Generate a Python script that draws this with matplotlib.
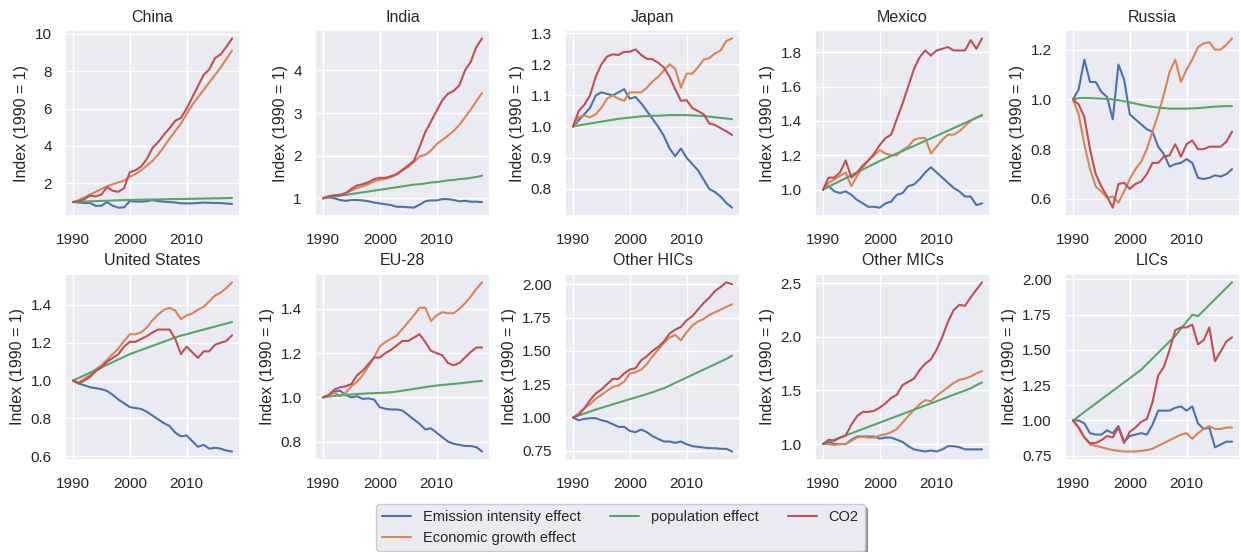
import matplotlib
matplotlib.use("Agg")
import matplotlib.pyplot as plt
import seaborn as sns

sns.set_theme(style="darkgrid")
plt.rcParams['font.family'] = ['Liberation Sans', 'DejaVu Sans']

years = list(range(1990, 2019))
regions = ["China", "India", "Japan", "Mexico", "Russia",
           "United States", "EU-28", "Other HICs", "Other MICs", "LICs"]
series_names = ["Emission intensity effect", "Economic growth effect",
                "population effect", "CO2"]

china_intensity = [1.0, 0.98, 0.95, 0.95, 0.8, 0.8, 1.0, 0.8, 0.7, 0.72, 1.05, 1.03, 1.02, 1.05, 1.1, 1.05, 1.02, 1.0, 0.98, 0.93, 0.93, 0.93, 0.95, 0.97, 0.96, 0.95, 0.95, 0.92, 0.9]
china_growth = [1.0, 1.1, 1.25, 1.4, 1.55, 1.7, 1.85, 1.95, 2.05, 2.15, 2.35, 2.5, 2.7, 2.95, 3.2, 3.55, 3.95, 4.4, 4.8, 5.2, 5.7, 6.2, 6.6, 7.0, 7.4, 7.8, 8.2, 8.65, 9.1]
china_pop = [1.0, 1.013, 1.026, 1.038, 1.05, 1.062, 1.073, 1.083, 1.093, 1.102, 1.11, 1.118, 1.125, 1.131, 1.137, 1.143, 1.149, 1.154, 1.16, 1.165, 1.17, 1.175, 1.181, 1.187, 1.193, 1.199, 1.205, 1.212, 1.218]
china_co2 = [1.0, 1.05, 1.15, 1.35, 1.3, 1.4, 1.8, 1.6, 1.55, 1.75, 2.6, 2.7, 2.9, 3.3, 3.9, 4.2, 4.6, 4.95, 5.35, 5.5, 6.0, 6.6, 7.2, 7.8, 8.1, 8.7, 8.9, 9.3, 9.75]

india_intensity = [1.0, 1.02, 1.0, 0.96, 0.94, 0.96, 0.96, 0.95, 0.93, 0.9, 0.88, 0.86, 0.84, 0.8, 0.8, 0.79, 0.78, 0.85, 0.93, 0.95, 0.95, 0.98, 0.98, 0.96, 0.93, 0.94, 0.92, 0.92, 0.91]
india_growth = [1.0, 1.02, 1.05, 1.08, 1.12, 1.18, 1.24, 1.28, 1.33, 1.4, 1.43, 1.46, 1.5, 1.56, 1.65, 1.74, 1.85, 1.98, 2.02, 2.12, 2.27, 2.37, 2.47, 2.58, 2.72, 2.9, 3.08, 3.28, 3.47]
india_pop = [1.0, 1.02, 1.04, 1.06, 1.08, 1.1, 1.12, 1.14, 1.16, 1.18, 1.2, 1.22, 1.24, 1.26, 1.28, 1.3, 1.32, 1.33, 1.35, 1.37, 1.38, 1.4, 1.42, 1.43, 1.45, 1.46, 1.48, 1.5, 1.53]
india_co2 = [1.0, 1.05, 1.07, 1.08, 1.12, 1.22, 1.3, 1.33, 1.38, 1.45, 1.48, 1.48, 1.52, 1.57, 1.67, 1.77, 1.88, 2.2, 2.55, 2.8, 3.05, 3.3, 3.45, 3.52, 3.65, 4.0, 4.2, 4.55, 4.75]

japan_intensity = [1.0, 1.02, 1.04, 1.06, 1.1, 1.11, 1.105, 1.1, 1.11, 1.12, 1.09, 1.095, 1.075, 1.05, 1.025, 1.0, 0.97, 0.93, 0.905, 0.93, 0.9, 0.88, 0.86, 0.83, 0.8, 0.79, 0.775, 0.755, 0.74]
japan_growth = [1.0, 1.03, 1.035, 1.03, 1.04, 1.06, 1.09, 1.1, 1.09, 1.083, 1.11, 1.11, 1.11, 1.125, 1.145, 1.16, 1.18, 1.2, 1.185, 1.125, 1.17, 1.17, 1.19, 1.215, 1.22, 1.235, 1.245, 1.275, 1.283]
japan_pop = [1.0, 1.004, 1.007, 1.01, 1.013, 1.016, 1.019, 1.022, 1.025, 1.027, 1.029, 1.031, 1.033, 1.034, 1.035, 1.035, 1.036, 1.037, 1.037, 1.037, 1.037, 1.036, 1.035, 1.034, 1.032, 1.03, 1.028, 1.026, 1.024]
japan_co2 = [1.0, 1.05, 1.07, 1.1, 1.16, 1.2, 1.225, 1.232, 1.23, 1.24, 1.24, 1.248, 1.23, 1.218, 1.216, 1.205, 1.19, 1.16, 1.12, 1.083, 1.085, 1.06, 1.05, 1.04, 1.01, 1.005, 0.995, 0.985, 0.973]

mexico_intensity = [1.0, 1.02, 0.99, 0.98, 0.99, 0.97, 0.94, 0.92, 0.9, 0.9, 0.895, 0.92, 0.93, 0.97, 0.98, 1.02, 1.03, 1.06, 1.1, 1.13, 1.1, 1.07, 1.04, 1.01, 0.99, 0.96, 0.96, 0.91, 0.92]
mexico_growth = [1.0, 1.04, 1.06, 1.08, 1.1, 1.02, 1.08, 1.13, 1.17, 1.2, 1.23, 1.21, 1.2, 1.2, 1.23, 1.25, 1.29, 1.3, 1.3, 1.21, 1.25, 1.29, 1.32, 1.32, 1.34, 1.37, 1.4, 1.42, 1.43]
mexico_pop = [1.0, 1.017, 1.034, 1.05, 1.067, 1.084, 1.1, 1.117, 1.134, 1.15, 1.167, 1.181, 1.196, 1.211, 1.225, 1.24, 1.254, 1.269, 1.284, 1.298, 1.313, 1.328, 1.343, 1.358, 1.373, 1.388, 1.403, 1.418, 1.435]
mexico_co2 = [1.0, 1.07, 1.07, 1.1, 1.17, 1.07, 1.1, 1.14, 1.17, 1.21, 1.26, 1.3, 1.32, 1.41, 1.5, 1.6, 1.7, 1.77, 1.81, 1.78, 1.81, 1.82, 1.83, 1.81, 1.81, 1.81, 1.87, 1.82, 1.88]

russia_intensity = [1.0, 1.04, 1.16, 1.07, 1.07, 1.03, 1.01, 0.92, 1.14, 1.08, 0.94, 0.92, 0.9, 0.88, 0.87, 0.81, 0.78, 0.73, 0.74, 0.745, 0.76, 0.745, 0.685, 0.68, 0.685, 0.695, 0.69, 0.7, 0.72]
russia_growth = [1.0, 0.94, 0.82, 0.72, 0.65, 0.63, 0.605, 0.61, 0.585, 0.63, 0.68, 0.72, 0.75, 0.8, 0.87, 0.94, 1.02, 1.11, 1.16, 1.07, 1.12, 1.16, 1.21, 1.225, 1.23, 1.2, 1.2, 1.22, 1.245]
russia_pop = [1.0, 1.005, 1.006, 1.005, 1.004, 1.003, 1.002, 1.0, 0.997, 0.993, 0.988, 0.983, 0.978, 0.974, 0.97, 0.967, 0.965, 0.963, 0.963, 0.963, 0.963, 0.964, 0.965, 0.967, 0.969, 0.971, 0.972, 0.973, 0.973]
russia_co2 = [1.0, 0.98, 0.93, 0.8, 0.7, 0.65, 0.61, 0.565, 0.66, 0.665, 0.64, 0.66, 0.67, 0.7, 0.745, 0.745, 0.77, 0.775, 0.82, 0.77, 0.82, 0.835, 0.8, 0.8, 0.81, 0.81, 0.81, 0.83, 0.87]

us_intensity = [1.0, 0.985, 0.975, 0.965, 0.96, 0.955, 0.945, 0.925, 0.9, 0.88, 0.86, 0.855, 0.85, 0.835, 0.815, 0.795, 0.775, 0.76, 0.725, 0.705, 0.71, 0.68, 0.65, 0.66, 0.64, 0.645, 0.64, 0.63, 0.625]
us_growth = [1.0, 0.99, 1.01, 1.03, 1.06, 1.08, 1.11, 1.14, 1.17, 1.21, 1.245, 1.245, 1.255, 1.28, 1.32, 1.35, 1.375, 1.385, 1.37, 1.325, 1.345, 1.355, 1.375, 1.39, 1.42, 1.45, 1.465, 1.49, 1.52]
us_pop = [1.0, 1.014, 1.028, 1.042, 1.056, 1.07, 1.084, 1.098, 1.112, 1.126, 1.14, 1.151, 1.162, 1.173, 1.184, 1.195, 1.206, 1.217, 1.228, 1.238, 1.245, 1.254, 1.262, 1.27, 1.278, 1.286, 1.294, 1.302, 1.31]
us_co2 = [1.0, 0.985, 1.0, 1.02, 1.05, 1.07, 1.1, 1.12, 1.14, 1.18, 1.205, 1.205, 1.22, 1.235, 1.255, 1.27, 1.27, 1.27, 1.22, 1.14, 1.18, 1.15, 1.12, 1.155, 1.155, 1.19, 1.2, 1.21, 1.24]

eu_intensity = [1.0, 1.01, 1.025, 1.03, 1.01, 1.0, 1.005, 0.993, 0.995, 0.99, 0.955, 0.948, 0.945, 0.945, 0.94, 0.92, 0.9, 0.88, 0.855, 0.86, 0.84, 0.82, 0.8, 0.79, 0.785, 0.78, 0.78, 0.775, 0.755]
eu_growth = [1.0, 1.01, 1.02, 1.005, 1.02, 1.05, 1.07, 1.1, 1.14, 1.18, 1.23, 1.25, 1.265, 1.28, 1.31, 1.34, 1.37, 1.405, 1.405, 1.345, 1.37, 1.385, 1.38, 1.38, 1.4, 1.425, 1.455, 1.49, 1.52]
eu_pop = [1.0, 1.003, 1.006, 1.009, 1.011, 1.013, 1.015, 1.016, 1.018, 1.019, 1.02, 1.021, 1.023, 1.026, 1.03, 1.034, 1.038, 1.042, 1.046, 1.05, 1.053, 1.056, 1.058, 1.061, 1.063, 1.066, 1.069, 1.072, 1.074]
eu_co2 = [1.0, 1.01, 1.035, 1.045, 1.05, 1.06, 1.1, 1.12, 1.15, 1.18, 1.18, 1.2, 1.215, 1.235, 1.255, 1.255, 1.27, 1.285, 1.25, 1.21, 1.2, 1.19, 1.155, 1.145, 1.155, 1.18, 1.205, 1.225, 1.225]

hic_intensity = [1.0, 0.98, 0.99, 0.995, 0.995, 0.98, 0.97, 0.95, 0.93, 0.93, 0.9, 0.89, 0.91, 0.89, 0.86, 0.84, 0.82, 0.82, 0.81, 0.82, 0.8, 0.785, 0.78, 0.775, 0.77, 0.77, 0.765, 0.765, 0.745]
hic_growth = [1.0, 1.03, 1.07, 1.1, 1.14, 1.17, 1.2, 1.23, 1.24, 1.27, 1.33, 1.34, 1.36, 1.4, 1.46, 1.51, 1.56, 1.6, 1.62, 1.58, 1.64, 1.69, 1.72, 1.74, 1.77, 1.79, 1.81, 1.83, 1.85]
hic_pop = [1.0, 1.015, 1.03, 1.045, 1.06, 1.073, 1.086, 1.099, 1.112, 1.125, 1.138, 1.15, 1.163, 1.176, 1.19, 1.205, 1.22, 1.24, 1.26, 1.28, 1.3, 1.32, 1.34, 1.36, 1.38, 1.4, 1.42, 1.44, 1.465]
hic_co2 = [1.0, 1.02, 1.07, 1.13, 1.18, 1.21, 1.25, 1.29, 1.29, 1.33, 1.36, 1.37, 1.43, 1.46, 1.5, 1.53, 1.57, 1.63, 1.66, 1.68, 1.73, 1.76, 1.81, 1.86, 1.9, 1.95, 1.98, 2.015, 2.0]

mic_intensity = [1.0, 1.02, 1.0, 1.0, 1.0, 1.04, 1.07, 1.07, 1.07, 1.07, 1.05, 1.06, 1.06, 1.04, 1.02, 0.98, 0.95, 0.94, 0.93, 0.94, 0.93, 0.95, 0.98, 0.98, 0.97, 0.95, 0.95, 0.95, 0.95]
mic_growth = [1.0, 1.0, 0.99, 1.0, 1.0, 1.03, 1.06, 1.07, 1.06, 1.06, 1.08, 1.09, 1.11, 1.14, 1.2, 1.26, 1.32, 1.37, 1.41, 1.4, 1.45, 1.49, 1.53, 1.57, 1.6, 1.61, 1.63, 1.66, 1.68]
mic_pop = [1.0, 1.02, 1.04, 1.06, 1.08, 1.1, 1.12, 1.14, 1.16, 1.18, 1.2, 1.22, 1.24, 1.26, 1.28, 1.3, 1.32, 1.34, 1.36, 1.38, 1.4, 1.42, 1.44, 1.46, 1.48, 1.5, 1.52, 1.55, 1.575]
mic_co2 = [1.0, 1.04, 1.03, 1.06, 1.08, 1.18, 1.26, 1.3, 1.3, 1.31, 1.34, 1.38, 1.43, 1.46, 1.55, 1.58, 1.61, 1.69, 1.75, 1.79, 1.88, 2.0, 2.14, 2.25, 2.3, 2.29, 2.37, 2.44, 2.51]

lic_intensity = [1.0, 1.0, 0.98, 0.91, 0.9, 0.9, 0.93, 0.91, 0.96, 0.85, 0.89, 0.9, 0.91, 0.9, 0.97, 1.07, 1.07, 1.07, 1.09, 1.1, 1.07, 1.1, 0.98, 0.94, 0.95, 0.81, 0.83, 0.85, 0.85]
lic_growth = [1.0, 0.95, 0.88, 0.83, 0.82, 0.81, 0.8, 0.79, 0.785, 0.78, 0.78, 0.78, 0.785, 0.79, 0.8, 0.82, 0.84, 0.86, 0.88, 0.9, 0.91, 0.87, 0.91, 0.94, 0.96, 0.94, 0.94, 0.95, 0.95]
lic_pop = [1.0, 1.03, 1.06, 1.09, 1.12, 1.15, 1.18, 1.21, 1.24, 1.27, 1.3, 1.33, 1.36, 1.4, 1.44, 1.48, 1.52, 1.56, 1.6, 1.65, 1.7, 1.75, 1.74, 1.78, 1.82, 1.86, 1.9, 1.94, 1.98]
lic_co2 = [1.0, 0.95, 0.88, 0.84, 0.84, 0.86, 0.89, 0.88, 0.95, 0.84, 0.92, 0.95, 0.99, 1.01, 1.13, 1.32, 1.38, 1.5, 1.64, 1.66, 1.66, 1.68, 1.54, 1.57, 1.66, 1.42, 1.49, 1.56, 1.59]

data = {
    "China": [china_intensity, china_growth, china_pop, china_co2],
    "India": [india_intensity, india_growth, india_pop, india_co2],
    "Japan": [japan_intensity, japan_growth, japan_pop, japan_co2],
    "Mexico": [mexico_intensity, mexico_growth, mexico_pop, mexico_co2],
    "Russia": [russia_intensity, russia_growth, russia_pop, russia_co2],
    "United States": [us_intensity, us_growth, us_pop, us_co2],
    "EU-28": [eu_intensity, eu_growth, eu_pop, eu_co2],
    "Other HICs": [hic_intensity, hic_growth, hic_pop, hic_co2],
    "Other MICs": [mic_intensity, mic_growth, mic_pop, mic_co2],
    "LICs": [lic_intensity, lic_growth, lic_pop, lic_co2],
}

colors = sns.color_palette("deep")[:4]

fig, axes = plt.subplots(2, 5, figsize=(12.41, 5.52), dpi=100)
fig.subplots_adjust(left=0.0524, right=0.9992, top=0.9457, bottom=0.1667,
                    wspace=0.4286, hspace=0.31)

handles = []
for ax, region in zip(axes.flat, regions):
    hs = []
    for name, vals, c in zip(series_names, data[region], colors):
        h, = ax.plot(years, vals, color=c, label=name)
        hs.append(h)
    handles = hs
    ax.set_title(region, fontsize=11.5)
    ax.set_ylabel("Index (1990 = 1)", fontsize=11.5)
    ax.set_xticks([1990, 2000, 2010])
    ax.tick_params(labelsize=11)
    ax.tick_params(axis="x", pad=6.5)

fig.legend(handles, series_names, loc="lower center", bbox_to_anchor=(0.5, -0.012),
           ncol=3, shadow=True, fontsize=10.5)

fig.savefig("out.png", dpi=100)
